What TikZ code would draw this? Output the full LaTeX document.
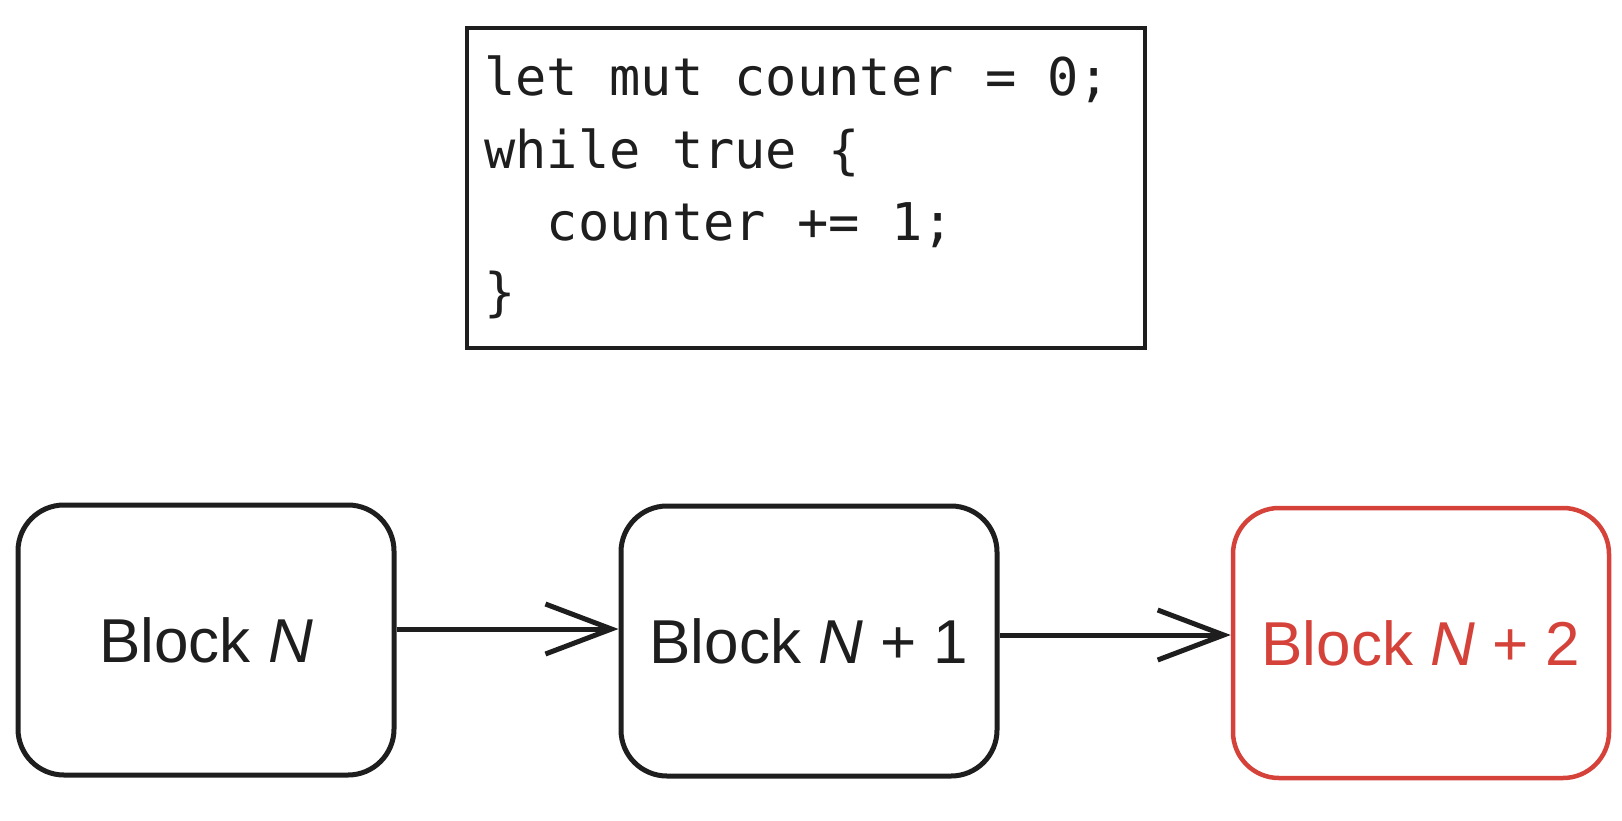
\documentclass[tikz,border=0pt]{standalone}
\usepackage{fontspec}
\setmainfont{Liberation Sans}
\setmonofont{DejaVu Sans Mono}
\usetikzlibrary{arrows.meta}
\definecolor{blockred}{RGB}{212,66,58}
\definecolor{ink}{RGB}{30,30,30}
\begin{document}
\begin{tikzpicture}[x=1pt,y=-1pt,
  codebox/.style={draw=ink, line width=4.5pt, minimum width=678pt, minimum height=320pt, inner sep=0pt},
  codeline/.style={anchor=base west, inner sep=0pt, font=\ttfamily\fontsize{52}{60}\selectfont, text=ink},
  blockbox/.style={draw=ink, line width=5pt, rounded corners=46pt, minimum width=376pt, minimum height=270pt,
    font=\fontsize{62}{70}\selectfont, text=ink, inner sep=0pt},
  hotblock/.style={blockbox, draw=blockred, text=blockred, line width=4.5pt},
  flow/.style={draw=ink, line width=5pt, -{Straight Barb[length=66pt, width=50pt, line width=5pt]}}
]
\useasboundingbox (0,0) rectangle (1622,820);

% source snippet
\node[codebox] (code) at (806,188) {};
\node[codeline] (l1) at (484,95)  {let mut counter = 0;};
\node[codeline] (l2) at (484,168) {while true \{};
\node[codeline] (l3) at (484,240) {\ \ counter += 1;};
\node[codeline] (l4) at (484,310) {\}};

% chain of blocks
\node[blockbox] (b0) at (206,640) {Block \textit{N}};
\node[blockbox] (b1) at (809,641) {Block \textit{N} + 1};
\node[hotblock] (b2) at (1421,643) {Block \textit{N} + 2};

\draw[flow] (b0.east |- 0,629) -- (b1.west |- 0,629);
\draw[flow] (b1.east |- 0,635) -- (b2.west |- 0,635);
\end{tikzpicture}
\end{document}
